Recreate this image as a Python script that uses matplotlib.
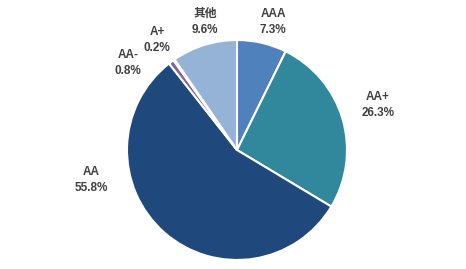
import matplotlib
matplotlib.use('Agg')
import matplotlib.pyplot as plt

plt.rcParams['font.family'] = ['Liberation Sans', 'Noto Sans CJK SC', 'DejaVu Sans']

# 评级分布
categories = ['AAA', 'AA+', 'AA', 'AA-', 'A+', '其他']
shares = [7.3, 26.3, 55.8, 0.8, 0.2, 9.6]
colors = ['#4F81BD', '#31879C', '#1F497D', '#8064A2', '#4BACC6', '#95B3D7']

# label anchor positions in pixels (x, y from top)
label_pos = [(273, 22), (378, 105), (91, 180), (128, 63), (157, 40), (205, 22)]

W, H = 466, 269
fig = plt.figure(figsize=(W / 100, H / 100), dpi=100)
fig.patch.set_facecolor('white')

cx, cy, r = 237, 150, 110
ax = fig.add_axes([(cx - r) / W, (H - cy - r) / H, 2 * r / W, 2 * r / H])
ax.pie(shares, colors=colors, startangle=90, counterclock=False,
       wedgeprops=dict(edgecolor='white', linewidth=1.5))
ax.set_aspect('auto')
ax.set_xlim(-1, 1)
ax.set_ylim(-1, 1)

for name, val, (px, py) in zip(categories, shares, label_pos):
    fig.text(px / W, 1 - py / H, f'{name}\n{val:.1f}%', ha='center', va='center',
             fontsize=8.5, fontweight='bold', color='#404040', linespacing=1.45)

fig.savefig('out.png', dpi=100)
